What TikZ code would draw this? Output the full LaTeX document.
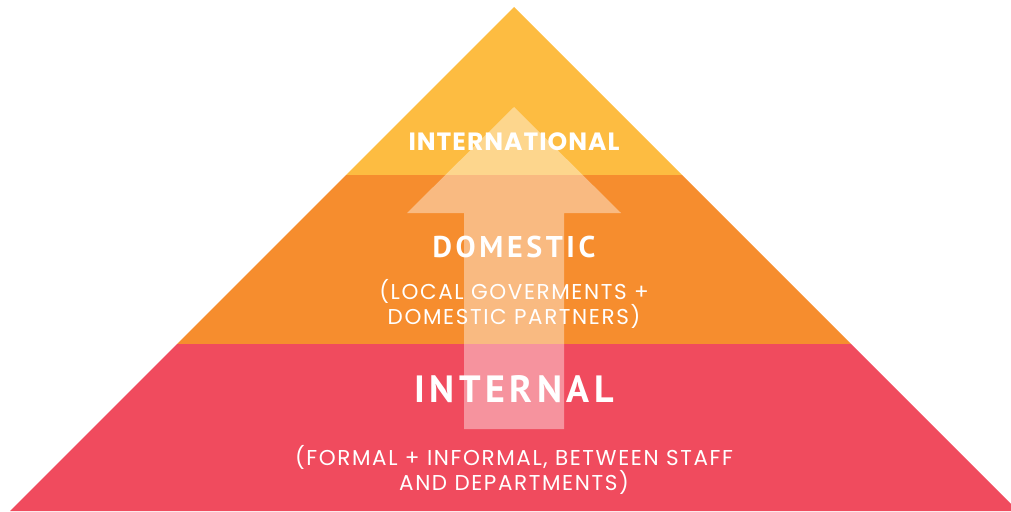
\documentclass[tikz,border=0pt]{standalone}
\usepackage{fontspec}
\setmainfont{Poppins}
\newfontfamily\titlefont[LetterSpace=12]{PT Sans}
\newfontfamily\bodyfont[LetterSpace=7.5]{Poppins}
\newfontfamily\topfont[LetterSpace=4]{Poppins}
\definecolor{tierYellow}{HTML}{FDBC41}
\definecolor{tierOrange}{HTML}{F68D2E}
\definecolor{tierRed}{HTML}{F04B5E}
\tikzset{
  tier/.style={draw=none},
  growarrow/.style={fill=white, fill opacity=0.4, draw=none},
  bigtitle/.style={text=white, font=\titlefont\bfseries\fontsize{38}{38}\selectfont},
  midtitle/.style={text=white, font=\titlefont\bfseries\fontsize{30}{30}\selectfont},
  toptitle/.style={text=white, font=\topfont\bfseries\fontsize{25}{25}\selectfont},
  subtext/.style={text=white, align=center, font=\bodyfont\fontsize{21.5}{25}\selectfont}
}
\begin{document}
\begin{tikzpicture}[x=1pt,y=-1pt]
\useasboundingbox (0,0) rectangle (1011,511);
\clip (0,0) rectangle (1011,511);
% pyramid corners
\coordinate (apex) at (514,7);
\coordinate (yl) at (346,175);
\coordinate (yr) at (682,175);
\coordinate (ol) at (177,344);
\coordinate (or) at (851,344);
\coordinate (bl) at (10,511);
\coordinate (br) at (1018,511);
\fill[tierYellow, tier] (apex) -- (yr) -- (yl) -- cycle;
\fill[tierOrange, tier] (yl) -- (yr) -- (or) -- (ol) -- cycle;
\fill[tierRed, tier] (ol) -- (or) -- (br) -- (bl) -- cycle;
% arrow
\coordinate (tip) at (514,107);
\fill[growarrow] (tip) -- (621,213) -- (564,213) -- (564,429) -- (464,429) -- (464,213) -- (407,213) -- cycle;
% labels
\node[toptitle] (intl) at (514,141.5) {INTERNATIONAL};
\node[midtitle] (dom) at (514,246.5) {DOMESTIC};
\node[subtext] (domsub) at (514,304) {(LOCAL GOVERMENTS +\\DOMESTIC PARTNERS)};
\node[bigtitle] (intern) at (514,389) {INTERNAL};
\node[subtext] (internsub) at (514,469.5) {(FORMAL + INFORMAL, BETWEEN STAFF\\AND DEPARTMENTS)};
\end{tikzpicture}
\end{document}
